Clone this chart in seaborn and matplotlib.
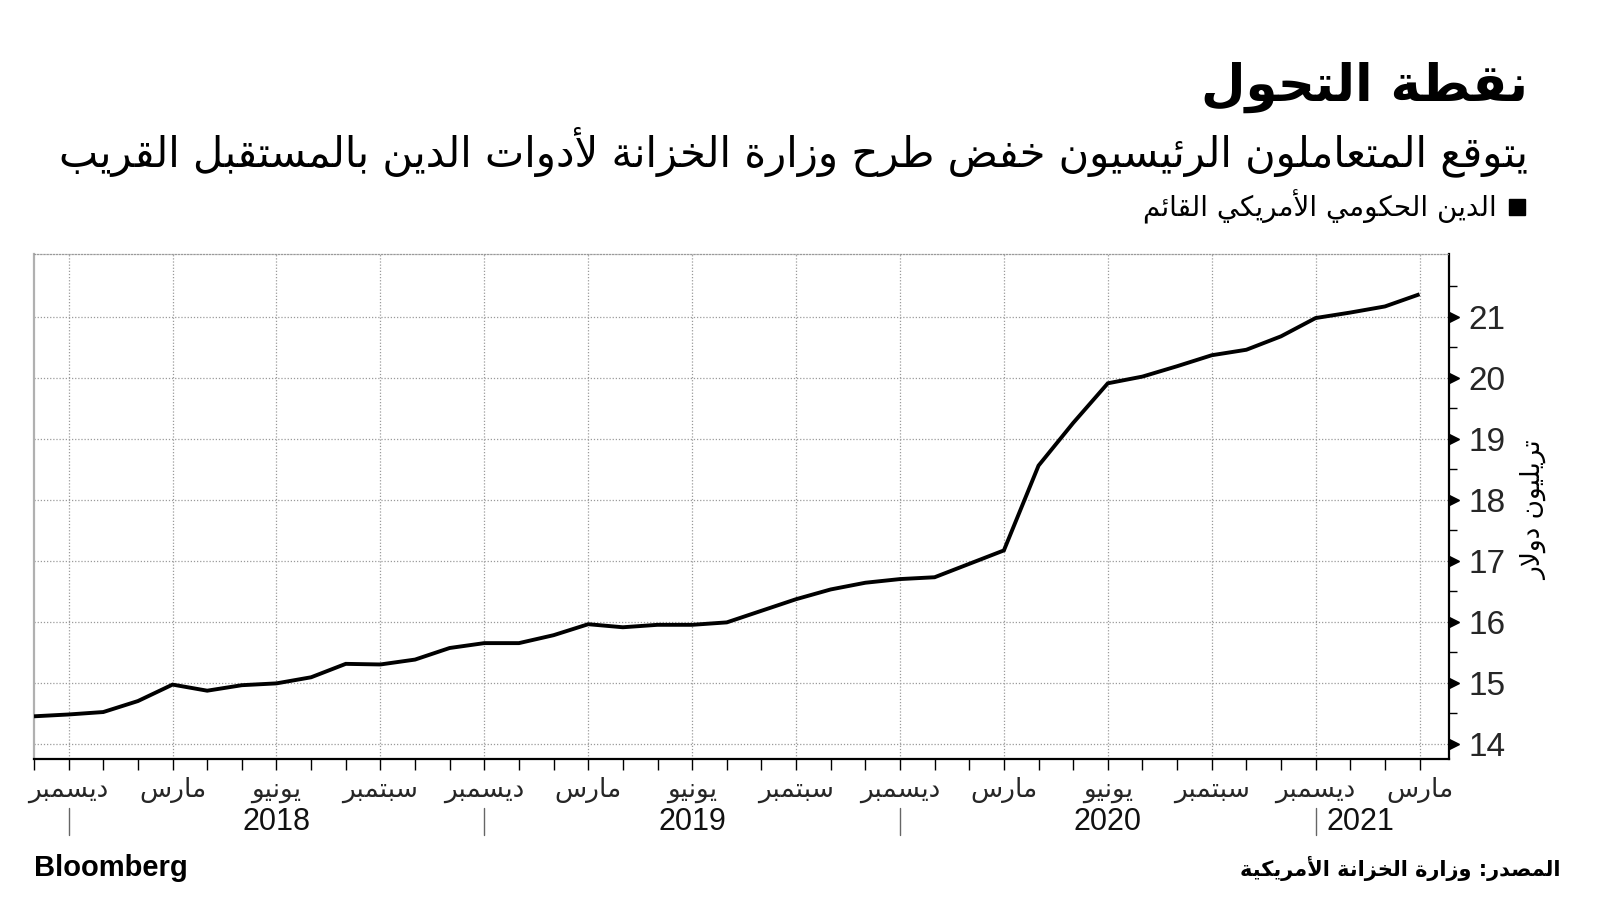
import numpy as np
import pandas as pd
import matplotlib
matplotlib.use("Agg")
import matplotlib.pyplot as plt
import matplotlib.transforms as mtransforms
import seaborn as sns

# ---------------- data ----------------
# monthly, Nov 2017 (index 0) ... Mar 2021 (index 40), trillion USD
month_index = list(range(41))
debt = [14.45, 14.48, 14.52, 14.70, 14.97, 14.87, 14.96, 14.99, 15.09, 15.31,
        15.30, 15.38, 15.57, 15.65, 15.65, 15.78, 15.96, 15.91, 15.95, 15.95,
        15.99, 16.18, 16.37, 16.53, 16.64, 16.70, 16.73, 16.95, 17.17, 18.56,
        19.26, 19.91, 20.02, 20.19, 20.37, 20.46, 20.68, 20.98, 21.07, 21.17,
        21.37]
tick_positions = [1, 4, 7, 10, 13, 16, 19, 22, 25, 28, 31, 34, 37, 40]
tick_months = ["ديسمبر", "مارس", "يونيو", "سبتمبر"] * 3 + ["ديسمبر", "مارس"]
year_labels = ["2018", "2019", "2020", "2021"]
year_centers = [7, 19, 31, 38.3]
year_separators = [1, 13, 25, 37]
y_ticks = [14, 15, 16, 17, 18, 19, 20, 21]

title = "نقطة التحول"
subtitle = "يتوقع المتعاملون الرئيسيون خفض طرح وزارة الخزانة لأدوات الدين بالمستقبل القريب"
legend_label = "الدين الحكومي الأمريكي القائم"
y_label = "تريليون دولار"
source = "المصدر: وزارة الخزانة الأمريكية"
brand = "Bloomberg"

# ---------------- Arabic shaping (presentation forms + visual order) ----------------
_INFO = {'ء': (0xFE80, 1), 'آ': (0xFE81, 2), 'أ': (0xFE83, 2), 'ؤ': (0xFE85, 2),
         'إ': (0xFE87, 2), 'ئ': (0xFE89, 4), 'ا': (0xFE8D, 2), 'ب': (0xFE8F, 4),
         'ة': (0xFE93, 2), 'ت': (0xFE95, 4), 'ث': (0xFE99, 4), 'ج': (0xFE9D, 4),
         'ح': (0xFEA1, 4), 'خ': (0xFEA5, 4), 'د': (0xFEA9, 2), 'ذ': (0xFEAB, 2),
         'ر': (0xFEAD, 2), 'ز': (0xFEAF, 2), 'س': (0xFEB1, 4), 'ش': (0xFEB5, 4),
         'ص': (0xFEB9, 4), 'ض': (0xFEBD, 4), 'ط': (0xFEC1, 4), 'ظ': (0xFEC5, 4),
         'ع': (0xFEC9, 4), 'غ': (0xFECD, 4), 'ف': (0xFED1, 4), 'ق': (0xFED5, 4),
         'ك': (0xFED9, 4), 'ل': (0xFEDD, 4), 'م': (0xFEE1, 4), 'ن': (0xFEE5, 4),
         'ه': (0xFEE9, 4), 'و': (0xFEED, 2), 'ى': (0xFEEF, 2), 'ي': (0xFEF1, 4)}
_LAMALEF = {'آ': 0xFEF5, 'أ': 0xFEF7, 'إ': 0xFEF9, 'ا': 0xFEFB}


def ar(text):
    res = []
    prev_joins = False
    i, n = 0, len(text)
    while i < n:
        c = text[i]
        if c not in _INFO:
            res.append(c)
            prev_joins = False
            i += 1
            continue
        nxt = text[i + 1] if i + 1 < n else ''
        if c == 'ل' and nxt in _LAMALEF:
            res.append(chr(_LAMALEF[nxt] + (1 if prev_joins else 0)))
            prev_joins = False
            i += 2
            continue
        start, nf = _INFO[c]
        can_next = nf == 4 and nxt in _INFO
        if prev_joins and can_next:
            f = 3
        elif prev_joins:
            f = 1 if nf >= 2 else 0
        elif can_next:
            f = 2
        else:
            f = 0
        res.append(chr(start + f))
        prev_joins = nf == 4
        i += 1
    return ''.join(reversed(res))


# ---------------- style ----------------
sns.set_theme(style="white")
plt.rcParams['font.family'] = ['DejaVu Sans']
NUM_FONT = ['Liberation Sans Narrow', 'Liberation Sans', 'DejaVu Sans']

fig = plt.figure(figsize=(16, 9), dpi=100)
fig.patch.set_facecolor('white')
ax = fig.add_axes([34 / 1600, 1 - 759 / 900, (1449 - 34) / 1600, (759 - 254) / 900])

df = pd.DataFrame({"m": month_index, "debt": debt})
sns.lineplot(data=df, x="m", y="debt", ax=ax, color="black", linewidth=2.8,
             solid_joinstyle="miter", solid_capstyle="butt", zorder=5)

ax.set_xlim(0, 40.85)
ax.set_ylim(13.75, 22.03)
ax.set_xlabel("")
ax.set_ylabel("")

# x axis
ax.set_xticks(tick_positions)
ax.set_xticklabels([ar(t) for t in tick_months], fontsize=19)
ax.set_xticks([m for m in month_index if m not in tick_positions], minor=True)
ax.tick_params(axis='x', which='both', direction='out', length=8, width=1,
               color='black', pad=5, bottom=True)

# y axis on the right
ax.yaxis.tick_right()
ax.set_yticks(y_ticks)
ax.set_yticklabels([str(v) for v in y_ticks])
for lab in ax.get_yticklabels():
    lab.set_fontfamily(NUM_FONT)
    lab.set_fontsize(24)
ax.set_yticks([v + 0.5 for v in y_ticks[:-1]] + [21.5], minor=True)
ax.tick_params(axis='y', which='major', direction='out', length=0, pad=14,
               right=True, left=False)
ax.tick_params(axis='y', which='minor', direction='out', length=6, width=1,
               color='black', right=True, left=False)

# triangle tick markers
tri_tr = ax.get_yaxis_transform() + mtransforms.ScaledTranslation(5 / 100, 0, fig.dpi_scale_trans)
ax.plot([1.0] * len(y_ticks), y_ticks, linestyle='none', marker='>', markersize=7,
        color='black', transform=tri_tr, clip_on=False, zorder=6)

# grid
ax.grid(True, which='major', axis='both', linestyle=(0, (1, 1.5)), color='#9a9a9a',
        linewidth=0.9)
ax.spines['left'].set_color('#b0b0b0')
ax.spines['left'].set_linewidth(1.6)
ax.spines['top'].set_visible(True)
ax.spines['top'].set_color('#9a9a9a')
ax.spines['top'].set_linestyle((0, (1, 1.5)))
ax.spines['top'].set_linewidth(0.9)
ax.spines['bottom'].set_color('black')
ax.spines['bottom'].set_linewidth(1.6)
ax.spines['right'].set_color('black')
ax.spines['right'].set_linewidth(1.6)

# years and separators
xtr = ax.get_xaxis_transform()
for yl, xc in zip(year_labels, year_centers):
    ax.text(xc, -0.125, yl, transform=xtr, ha='center', va='center', fontsize=22,
            family=NUM_FONT, color='#111111')
for xs in year_separators:
    ax.plot([xs, xs], [-0.097, -0.150], transform=xtr, color='#666666', linewidth=1,
            clip_on=False)

# texts
fig.text(1528 / 1600, 1 - 87 / 900, ar(title), ha='right', va='center', fontsize=37,
         fontweight='bold', color='black')
fig.text(1528 / 1600, 1 - 152 / 900, ar(subtitle), ha='right', va='center', fontsize=30,
         color='black')
fig.text(1497 / 1600, 1 - 207 / 900, ar(legend_label), ha='right', va='center',
         fontsize=20, color='black')
fig.patches.append(plt.Rectangle((1509 / 1600, 1 - 215 / 900), 16 / 1600, 16 / 900,
                                 transform=fig.transFigure, color='black'))
fig.text(1534 / 1600, 1 - 510 / 900, ar(y_label), ha='center', va='center', rotation=90,
         fontsize=19, color='black')
fig.text(34 / 1600, 1 - 868 / 900, brand, ha='left', va='center', fontsize=21,
         fontweight='bold', family=NUM_FONT, color='black')
fig.text(1561 / 1600, 1 - 868 / 900, ar(source), ha='right', va='center', fontsize=15,
         fontweight='bold', color='black')

fig.savefig("out.png", dpi=100, facecolor='white')
